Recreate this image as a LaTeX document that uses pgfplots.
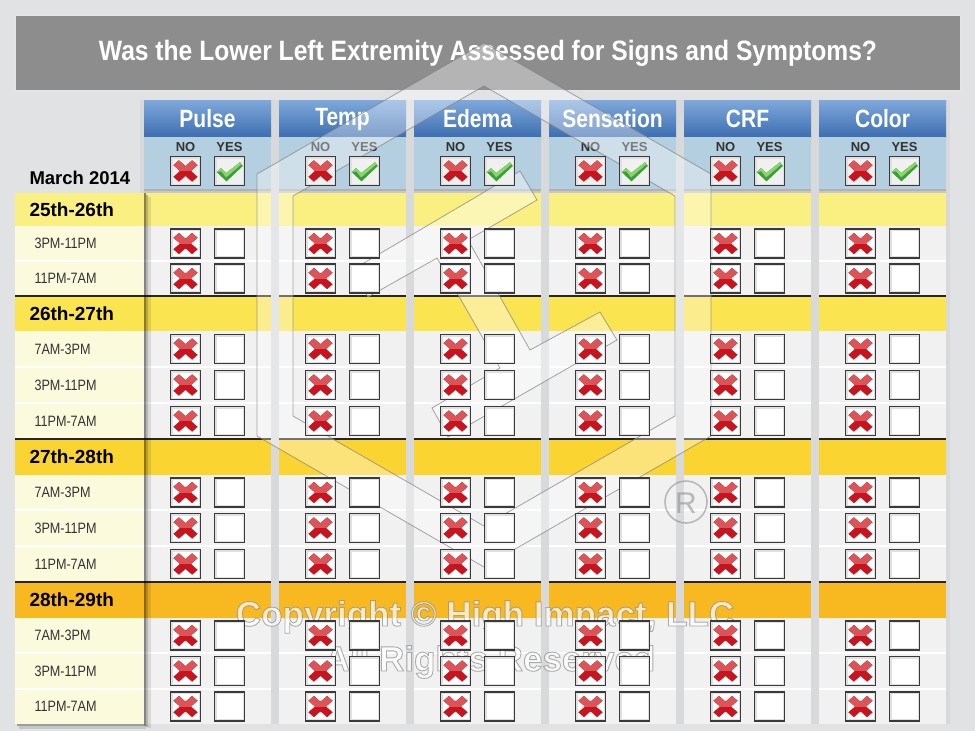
\documentclass[border=0pt]{standalone}
\usepackage{fontspec}
\setmainfont{Liberation Sans}
\newfontfamily\cond{Liberation Sans}[FakeStretch=0.88]
\newfontfamily\condh{Liberation Sans}[FakeStretch=0.84]
\newfontfamily\condr{Liberation Sans}[FakeStretch=0.84]
\usepackage{pgfplots}
\usepackage{pgfplotstable}
\pgfplotsset{compat=1.18}

\definecolor{pagebg}{HTML}{E1E2E4}
\definecolor{gapbg}{HTML}{D8D9DB}
\definecolor{titlebg}{HTML}{8D8D8D}
\definecolor{hdrtop}{HTML}{7FA9DC}
\definecolor{hdrbot}{HTML}{3D6EB0}
\definecolor{subhdr}{HTML}{B4CFDF}
\definecolor{cellbg}{HTML}{F1F1F1}
\definecolor{cream}{HTML}{FCFADC}
\definecolor{bandA}{HTML}{FAF082}
\definecolor{bandB}{HTML}{FAE450}
\definecolor{bandC}{HTML}{FAD532}
\definecolor{bandD}{HTML}{F7B820}
\definecolor{xred}{HTML}{C8141E}
\definecolor{xpink}{HTML}{E88080}
\definecolor{chkgreen}{HTML}{3AA035}
\definecolor{chklight}{HTML}{8CD46E}
\definecolor{boxedge}{HTML}{3A3A3A}
\definecolor{lbl}{HTML}{333333}

% check boxes
\newcommand\boxbase[1]{%
  \filldraw[fill=#1,draw=boxedge,line width=1.4pt] (-15pt,-14.5pt) rectangle (15pt,14.5pt);
  \draw[black!12,line width=1.2pt] (-13.6pt,-13.1pt) rectangle (13.6pt,13.1pt);}
\newcommand\xpath{(0pt,4.6pt) -- (6.6pt,10.4pt) -- (11.8pt,5.8pt) -- (5.2pt,0pt)
  -- (11.8pt,-5.8pt) -- (6.6pt,-10.4pt) -- (0pt,-4.6pt) -- (-6.6pt,-10.4pt)
  -- (-11.8pt,-5.8pt) -- (-5.2pt,0pt) -- (-11.8pt,5.8pt) -- (-6.6pt,10.4pt) -- cycle}
\newcommand\redx{%
  \fill[xred] \xpath;
  \begin{scope}
    \path[clip,draw=none] (-15pt,0.5pt) rectangle (15pt,15pt);
    \fill[xpink,opacity=0.6,draw=none] \xpath;
  \end{scope}}
\newcommand\greencheck{%
  \fill[chkgreen] (-12.5pt,-1pt) -- (-8.5pt,2.5pt) -- (-3.5pt,-2.5pt) -- (10.5pt,8.5pt)
     -- (13pt,5pt) -- (-3pt,-10pt) -- cycle;
  \fill[chklight] (-12.5pt,-1pt) -- (-8.5pt,2.5pt) -- (-3.5pt,-2.5pt) -- (10.5pt,8.5pt)
     -- (11.8pt,6.8pt) -- (-3.3pt,-6pt) -- (-8.3pt,0pt) -- cycle;}
\pgfdeclareplotmark{emptybox}{\boxbase{white}}
\pgfdeclareplotmark{nobox}{\boxbase{white}\redx}
\pgfdeclareplotmark{nokey}{\boxbase{black!6}\redx}
\pgfdeclareplotmark{yeskey}{\boxbase{black!6}\greencheck}

% answer per shift: 0 = NO, 1 = YES
\pgfplotstableread{
y     Pulse Temp Edema Sensation CRF Color
243.5 0 0 0 0 0 0
278.5 0 0 0 0 0 0
349   0 0 0 0 0 0
385   0 0 0 0 0 0
421   0 0 0 0 0 0
492.5 0 0 0 0 0 0
528   0 0 0 0 0 0
564   0 0 0 0 0 0
635.5 0 0 0 0 0 0
671   0 0 0 0 0 0
706.5 0 0 0 0 0 0
}\answers

% outlined watermark text
\newcommand\outl[1]{\special{pdf:literal direct 2 Tr 0.9 w 0.55 G}#1\special{pdf:literal direct 0 Tr}}

\begin{document}
\begin{tikzpicture}
\begin{axis}[
  width=975pt, height=731pt, scale only axis,
  xmin=0, xmax=975, ymin=0, ymax=731, y dir=reverse,
  hide axis, clip=false,
]
% page and title
\fill[pagebg] (axis cs:0,0) rectangle (axis cs:975,731);
\fill[titlebg] (axis cs:15,15) rectangle (axis cs:960,90);
\draw[white!80!gray,line width=0.8pt] (axis cs:15,15) rectangle (axis cs:960,90);
\node[text=white,font=\cond\bfseries\fontsize{28}{28}\selectfont] at (axis cs:488,53)
  {Was the Lower Left Extremity Assessed for Signs and Symptoms?};
\fill[gapbg] (axis cs:140,100) rectangle (axis cs:950,724);

% category columns
\pgfplotsinvokeforeach{144,279,414,549,684,819}{
  \shade[top color=hdrtop,bottom color=hdrbot] (axis cs:#1,100) rectangle ++(127pt,-37pt);
  \fill[subhdr] (axis cs:#1,137) rectangle ++(127pt,-52pt);
  \fill[black,opacity=0.18] (axis cs:#1,189) rectangle ++(127pt,-2pt);
  \fill[black,opacity=0.08] (axis cs:#1,191) rectangle ++(127pt,-2pt);
  \fill[cellbg] (axis cs:#1,193) rectangle ++(127pt,-531pt);
  \fill[bandA] (axis cs:#1,193) rectangle ++(127pt,-33pt);
  \fill[bandB] (axis cs:#1,296) rectangle ++(127pt,-35pt);
  \fill[bandC] (axis cs:#1,439) rectangle ++(127pt,-36pt);
  \fill[bandD] (axis cs:#1,582) rectangle ++(127pt,-36pt);
  \draw[white,line width=1.3pt] (axis cs:#1,261) -- ++(127pt,0pt);
  \draw[white,line width=1.3pt] (axis cs:#1,367) -- ++(127pt,0pt);
  \draw[white,line width=1.3pt] (axis cs:#1,403) -- ++(127pt,0pt);
  \draw[white,line width=1.3pt] (axis cs:#1,510) -- ++(127pt,0pt);
  \draw[white,line width=1.3pt] (axis cs:#1,546) -- ++(127pt,0pt);
  \draw[white,line width=1.3pt] (axis cs:#1,653) -- ++(127pt,0pt);
  \draw[white,line width=1.3pt] (axis cs:#1,689) -- ++(127pt,0pt);
  \draw[black!85,line width=1.8pt] (axis cs:#1,296) -- ++(127pt,0pt);
  \draw[black!85,line width=1.8pt] (axis cs:#1,439) -- ++(127pt,0pt);
  \draw[black!85,line width=1.8pt] (axis cs:#1,582) -- ++(127pt,0pt);
}
\node[text=white,font=\condh\bfseries\fontsize{25}{25}\selectfont] at (axis cs:207.5,119) {Pulse};
\node[text=white,font=\condh\bfseries\fontsize{25}{25}\selectfont] at (axis cs:342.5,119) {Temp};
\node[text=white,font=\condh\bfseries\fontsize{25}{25}\selectfont] at (axis cs:477.5,119) {Edema};
\node[text=white,font=\condh\bfseries\fontsize{25}{25}\selectfont] at (axis cs:612.5,119) {Sensation};
\node[text=white,font=\condh\bfseries\fontsize{25}{25}\selectfont] at (axis cs:747.5,119) {CRF};
\node[text=white,font=\condh\bfseries\fontsize{25}{25}\selectfont] at (axis cs:882.5,119) {Color};
\pgfplotsinvokeforeach{185.5,320.5,455.5,590.5,725.5,860.5}{
  \node[text=lbl,font=\bfseries\fontsize{13}{13}\selectfont] at (axis cs:#1,147) {NO};}
\pgfplotsinvokeforeach{229.5,364.5,499.5,634.5,769.5,904.5}{
  \node[text=lbl,font=\bfseries\fontsize{13}{13}\selectfont] at (axis cs:#1,147) {YES};}

% date / shift column
\fill[cream] (axis cs:15,193) rectangle (axis cs:144,724);
\fill[bandA] (axis cs:15,193) rectangle (axis cs:144,226);
\fill[bandB] (axis cs:15,296) rectangle (axis cs:144,331);
\fill[bandC] (axis cs:15,439) rectangle (axis cs:144,475);
\fill[bandD] (axis cs:15,582) rectangle (axis cs:144,618);
\pgfplotsinvokeforeach{261,367,403,510,546,653,689}{
  \draw[white,line width=2pt] (axis cs:15,#1) -- (axis cs:144,#1);}
\pgfplotsinvokeforeach{296,439,582}{
  \draw[black!85,line width=1.8pt] (axis cs:15,#1) -- (axis cs:144,#1);}
\fill[black,opacity=0.45] (axis cs:144,193) rectangle (axis cs:146,726);
\fill[black,opacity=0.25] (axis cs:146,195) rectangle (axis cs:148,727);
\fill[black,opacity=0.10] (axis cs:148,197) rectangle (axis cs:151,728);
\fill[black,opacity=0.30] (axis cs:17,724) rectangle (axis cs:144,726);
\fill[black,opacity=0.12] (axis cs:19,726) rectangle (axis cs:146,729);
\node[anchor=west,font=\bfseries\fontsize{18.5}{18.5}\selectfont] at (axis cs:26,178) {March 2014};
\node[anchor=west,font=\bfseries\fontsize{19}{19}\selectfont] at (axis cs:26,209.5) {25th-26th};
\node[anchor=west,font=\bfseries\fontsize{19}{19}\selectfont] at (axis cs:26,313.5) {26th-27th};
\node[anchor=west,font=\bfseries\fontsize{19}{19}\selectfont] at (axis cs:26,457) {27th-28th};
\node[anchor=west,font=\bfseries\fontsize{19}{19}\selectfont] at (axis cs:26,600) {28th-29th};
\node[anchor=west,text=lbl,font=\condr\fontsize{15}{15}\selectfont] at (axis cs:31,243.5) {3PM-11PM};
\node[anchor=west,text=lbl,font=\condr\fontsize{15}{15}\selectfont] at (axis cs:31,278.5) {11PM-7AM};
\node[anchor=west,text=lbl,font=\condr\fontsize{15}{15}\selectfont] at (axis cs:31,349) {7AM-3PM};
\node[anchor=west,text=lbl,font=\condr\fontsize{15}{15}\selectfont] at (axis cs:31,385) {3PM-11PM};
\node[anchor=west,text=lbl,font=\condr\fontsize{15}{15}\selectfont] at (axis cs:31,421) {11PM-7AM};
\node[anchor=west,text=lbl,font=\condr\fontsize{15}{15}\selectfont] at (axis cs:31,492.5) {7AM-3PM};
\node[anchor=west,text=lbl,font=\condr\fontsize{15}{15}\selectfont] at (axis cs:31,528) {3PM-11PM};
\node[anchor=west,text=lbl,font=\condr\fontsize{15}{15}\selectfont] at (axis cs:31,564) {11PM-7AM};
\node[anchor=west,text=lbl,font=\condr\fontsize{15}{15}\selectfont] at (axis cs:31,635.5) {7AM-3PM};
\node[anchor=west,text=lbl,font=\condr\fontsize{15}{15}\selectfont] at (axis cs:31,671) {3PM-11PM};
\node[anchor=west,text=lbl,font=\condr\fontsize{15}{15}\selectfont] at (axis cs:31,706.5) {11PM-7AM};

% key boxes in the header
\addplot[only marks, mark=nokey] coordinates {(185.5,171) (320.5,171) (455.5,171) (590.5,171) (725.5,171) (860.5,171)};
\addplot[only marks, mark=yeskey] coordinates {(229.5,171) (364.5,171) (499.5,171) (634.5,171) (769.5,171) (904.5,171)};

% answers
\addplot[only marks, mark=nobox] table[x expr={185.5+44*\thisrow{Pulse}}, y=y] {\answers};
\addplot[only marks, mark=emptybox] table[x expr={229.5-44*\thisrow{Pulse}}, y=y] {\answers};
\addplot[only marks, mark=nobox] table[x expr={320.5+44*\thisrow{Temp}}, y=y] {\answers};
\addplot[only marks, mark=emptybox] table[x expr={364.5-44*\thisrow{Temp}}, y=y] {\answers};
\addplot[only marks, mark=nobox] table[x expr={455.5+44*\thisrow{Edema}}, y=y] {\answers};
\addplot[only marks, mark=emptybox] table[x expr={499.5-44*\thisrow{Edema}}, y=y] {\answers};
\addplot[only marks, mark=nobox] table[x expr={590.5+44*\thisrow{Sensation}}, y=y] {\answers};
\addplot[only marks, mark=emptybox] table[x expr={634.5-44*\thisrow{Sensation}}, y=y] {\answers};
\addplot[only marks, mark=nobox] table[x expr={725.5+44*\thisrow{CRF}}, y=y] {\answers};
\addplot[only marks, mark=emptybox] table[x expr={769.5-44*\thisrow{CRF}}, y=y] {\answers};
\addplot[only marks, mark=nobox] table[x expr={860.5+44*\thisrow{Color}}, y=y] {\answers};
\addplot[only marks, mark=emptybox] table[x expr={904.5-44*\thisrow{Color}}, y=y] {\answers};

% watermark
\fill[white,opacity=0.35,even odd rule]
  (axis cs:484,43) -- (axis cs:711,174) -- (axis cs:711,436) -- (axis cs:484,567)
  -- (axis cs:257,436) -- (axis cs:257,174) -- cycle
  (axis cs:484,86) -- (axis cs:675,196) -- (axis cs:675,416) -- (axis cs:484,526)
  -- (axis cs:293,416) -- (axis cs:293,196) -- cycle;
\draw[gray,opacity=0.7,line width=0.8pt]
  (axis cs:484,43) -- (axis cs:711,174) -- (axis cs:711,436) -- (axis cs:484,567)
  -- (axis cs:257,436) -- (axis cs:257,174) -- cycle
  (axis cs:484,86) -- (axis cs:675,196) -- (axis cs:675,416) -- (axis cs:484,526)
  -- (axis cs:293,416) -- (axis cs:293,196) -- cycle;
\filldraw[fill=white,fill opacity=0.4,draw=gray,draw opacity=0.7,line width=0.8pt]
  (axis cs:352,270) -- (axis cs:520,171) -- (axis cs:537,200) -- (axis cs:468,240)
  -- (axis cs:530,350) -- (axis cs:600,312) -- (axis cs:617,340) -- (axis cs:448,437)
  -- (axis cs:432,408) -- (axis cs:500,368) -- (axis cs:437,258) -- (axis cs:368,297) -- cycle;
\draw[gray,opacity=0.5,line width=1.6pt] (axis cs:686,502) circle[radius=21pt];
\node[text=gray,text opacity=0.5,font=\fontsize{30}{30}\selectfont] at (axis cs:686,503) {R};
\node[text=white,opacity=0.7,font=\bfseries\fontsize{35}{35}\selectfont] at (axis cs:485,617)
  {\outl{Copyright \textcopyright{} High Impact, LLC}};
\node[text=white,opacity=0.7,font=\bfseries\fontsize{35}{35}\selectfont] at (axis cs:490,662)
  {\outl{All Rights Reserved}};
\end{axis}
\end{tikzpicture}
\end{document}
